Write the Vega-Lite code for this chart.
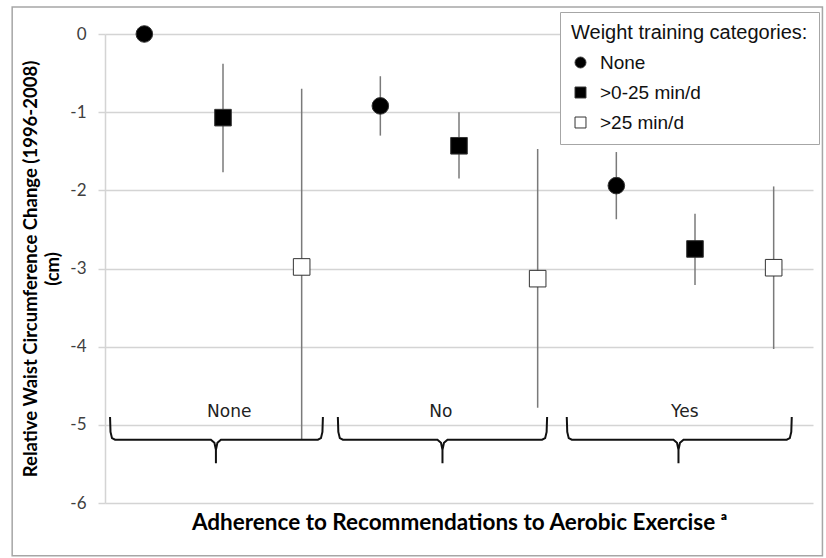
{
  "$schema": "https://vega.github.io/schema/vega-lite/v6.json",
  "width": 708,
  "height": 469,
  "autosize": {"type": "none"},
  "padding": {"left": 105, "top": 34, "right": 13, "bottom": 55},
  "background": "white",
  "config": {"view": {"stroke": null}, "font": "Lato"},
  "datasets": {
    "frame": [{"x": -0.68, "x2": 9.62, "y": 0.345, "y2": -6.675}],
    "errors": [
      {"x": 2, "y": -0.38, "y2": -1.77},
      {"x": 3, "y": -0.70, "y2": -5.19},
      {"x": 4, "y": -0.54, "y2": -1.30},
      {"x": 5, "y": -1.00, "y2": -1.85},
      {"x": 6, "y": -1.47, "y2": -4.78},
      {"x": 7, "y": -1.51, "y2": -2.37},
      {"x": 8, "y": -2.30, "y2": -3.21},
      {"x": 9, "y": -1.95, "y2": -4.03}
    ],
    "points": [
      {"x": 1, "group": "None", "wt": "None", "y": 0},
      {"x": 2, "group": "None", "wt": ">0-25 min/d", "y": -1.07},
      {"x": 3, "group": "None", "wt": ">25 min/d", "y": -2.98},
      {"x": 4, "group": "No", "wt": "None", "y": -0.92},
      {"x": 5, "group": "No", "wt": ">0-25 min/d", "y": -1.43},
      {"x": 6, "group": "No", "wt": ">25 min/d", "y": -3.13},
      {"x": 7, "group": "Yes", "wt": "None", "y": -1.94},
      {"x": 8, "group": "Yes", "wt": ">0-25 min/d", "y": -2.75},
      {"x": 9, "group": "Yes", "wt": ">25 min/d", "y": -2.99}
    ],
    "braces": [
      {"b": "None", "o": 1, "x": 0.564, "y": -4.90},
      {"b": "None", "o": 2, "x": 0.570, "y": -5.09},
      {"b": "None", "o": 3, "x": 0.589, "y": -5.17},
      {"b": "None", "o": 4, "x": 0.628, "y": -5.19},
      {"b": "None", "o": 5, "x": 1.846, "y": -5.19},
      {"b": "None", "o": 6, "x": 1.891, "y": -5.23},
      {"b": "None", "o": 7, "x": 1.910, "y": -5.32},
      {"b": "None", "o": 8, "x": 1.910, "y": -5.49},
      {"b": "None", "o": 9, "x": 1.910, "y": -5.32},
      {"b": "None", "o": 10, "x": 1.929, "y": -5.23},
      {"b": "None", "o": 11, "x": 1.974, "y": -5.19},
      {"b": "None", "o": 12, "x": 3.206, "y": -5.19},
      {"b": "None", "o": 13, "x": 3.245, "y": -5.17},
      {"b": "None", "o": 14, "x": 3.264, "y": -5.09},
      {"b": "None", "o": 15, "x": 3.270, "y": -4.90},
      {"b": "No", "o": 1, "x": 3.460, "y": -4.90},
      {"b": "No", "o": 2, "x": 3.466, "y": -5.09},
      {"b": "No", "o": 3, "x": 3.485, "y": -5.17},
      {"b": "No", "o": 4, "x": 3.524, "y": -5.19},
      {"b": "No", "o": 5, "x": 4.726, "y": -5.19},
      {"b": "No", "o": 6, "x": 4.771, "y": -5.23},
      {"b": "No", "o": 7, "x": 4.790, "y": -5.32},
      {"b": "No", "o": 8, "x": 4.790, "y": -5.49},
      {"b": "No", "o": 9, "x": 4.790, "y": -5.32},
      {"b": "No", "o": 10, "x": 4.809, "y": -5.23},
      {"b": "No", "o": 11, "x": 4.854, "y": -5.19},
      {"b": "No", "o": 12, "x": 6.056, "y": -5.19},
      {"b": "No", "o": 13, "x": 6.095, "y": -5.17},
      {"b": "No", "o": 14, "x": 6.114, "y": -5.09},
      {"b": "No", "o": 15, "x": 6.120, "y": -4.90},
      {"b": "Yes", "o": 1, "x": 6.370, "y": -4.90},
      {"b": "Yes", "o": 2, "x": 6.376, "y": -5.09},
      {"b": "Yes", "o": 3, "x": 6.395, "y": -5.17},
      {"b": "Yes", "o": 4, "x": 6.434, "y": -5.19},
      {"b": "Yes", "o": 5, "x": 7.726, "y": -5.19},
      {"b": "Yes", "o": 6, "x": 7.771, "y": -5.23},
      {"b": "Yes", "o": 7, "x": 7.790, "y": -5.32},
      {"b": "Yes", "o": 8, "x": 7.790, "y": -5.49},
      {"b": "Yes", "o": 9, "x": 7.790, "y": -5.32},
      {"b": "Yes", "o": 10, "x": 7.809, "y": -5.23},
      {"b": "Yes", "o": 11, "x": 7.854, "y": -5.19},
      {"b": "Yes", "o": 12, "x": 9.166, "y": -5.19},
      {"b": "Yes", "o": 13, "x": 9.205, "y": -5.17},
      {"b": "Yes", "o": 14, "x": 9.224, "y": -5.09},
      {"b": "Yes", "o": 15, "x": 9.230, "y": -4.90}
    ],
    "labels": [
      {"x": 2.08, "y": -4.83, "label": "None"},
      {"x": 4.77, "y": -4.83, "label": "No"},
      {"x": 7.87, "y": -4.83, "label": "Yes"}
    ]
  },
  "encoding": {
    "x": {
      "field": "x",
      "type": "quantitative",
      "scale": {"domain": [0.5, 9.5], "nice": false, "zero": false},
      "axis": {
        "title": "Adherence to Recommendations to Aerobic Exercise ᵃ",
        "labels": false,
        "ticks": false,
        "domain": false,
        "grid": false,
        "titleFont": "Lato",
        "titleFontSize": 22.5,
        "titleFontWeight": "bold",
        "titleColor": "#000",
        "titlePadding": 8
      }
    },
    "y": {
      "field": "y",
      "type": "quantitative",
      "scale": {"domain": [-6, 0], "nice": false, "zero": false},
      "axis": {
        "title": ["Relative Waist Circumference Change (1996-2008)", "(cm)"],
        "values": [-6, -5, -4, -3, -2, -1, 0],
        "labelExpr": "'' + datum.value",
        "grid": true,
        "gridColor": "#d4d4d4",
        "gridWidth": 1.5,
        "domainColor": "#d4d4d4",
        "domainWidth": 1.5,
        "tickColor": "#d4d4d4",
        "tickWidth": 1.5,
        "tickSize": 7,
        "labelPadding": 12,
        "labelFont": "Lato",
        "labelFontSize": 17,
        "labelColor": "#404040",
        "titleFont": "Lato",
        "titleFontSize": 18.5,
        "titleFontWeight": "bold",
        "titleColor": "#000",
        "titleLineHeight": 22,
        "titlePadding": 7,
        "titleLimit": 600
      }
    }
  },
  "layer": [
    {
      "data": {"name": "frame"},
      "mark": {"type": "rect", "fillOpacity": 0, "stroke": "#a6a6a6", "strokeWidth": 1.5},
      "encoding": {"x2": {"field": "x2"}, "y2": {"field": "y2"}}
    },
    {
      "data": {"name": "errors"},
      "mark": {"type": "rule", "color": "#7a7a7a", "strokeWidth": 1.5},
      "encoding": {"y2": {"field": "y2"}}
    },
    {
      "data": {"name": "braces"},
      "mark": {"type": "line", "color": "#111", "strokeWidth": 2},
      "encoding": {"detail": {"field": "b"}, "order": {"field": "o", "type": "quantitative"}}
    },
    {
      "data": {"name": "labels"},
      "mark": {"type": "text", "font": "DejaVu Sans", "fontSize": 17, "color": "#222", "baseline": "middle", "align": "center"},
      "encoding": {"text": {"field": "label"}}
    },
    {
      "data": {"name": "points"},
      "mark": {"type": "point", "filled": true, "size": 275, "stroke": "#333", "strokeWidth": 1, "opacity": 1},
      "encoding": {
        "shape": {
          "field": "wt",
          "type": "nominal",
          "scale": {"domain": ["None", ">0-25 min/d", ">25 min/d"], "range": ["circle", "square", "square"]},
          "legend": {
            "title": "Weight training categories:",
            "orient": "none",
            "legendX": 455,
            "legendY": -22,
            "direction": "vertical",
            "fillColor": "#fff",
            "strokeColor": "#a6a6a6",
            "padding": 11,
            "titleFont": "Liberation Sans",
            "titleFontSize": 20,
            "titleFontWeight": "normal",
            "titleColor": "#111",
            "titlePadding": 10,
            "titleLimit": 400,
            "labelFont": "Liberation Sans",
            "labelFontSize": 19,
            "labelColor": "#111",
            "labelLimit": 300,
            "symbolSize": 120,
            "symbolStrokeWidth": 1,
            "rowPadding": 10,
            "labelOffset": 10,
            "labelExpr": "datum.label == '>25 min/d' ? ' >25 min/d' : datum.label"
          }
        },
        "fill": {
          "field": "wt",
          "type": "nominal",
          "scale": {"domain": ["None", ">0-25 min/d", ">25 min/d"], "range": ["#000", "#000", "#fff"]},
          "legend": {
            "title": "Weight training categories:",
            "orient": "none",
            "legendX": 455,
            "legendY": -22,
            "direction": "vertical",
            "fillColor": "#fff",
            "strokeColor": "#a6a6a6",
            "padding": 11,
            "titleFont": "Liberation Sans",
            "titleFontSize": 20,
            "titleFontWeight": "normal",
            "titleColor": "#111",
            "titlePadding": 10,
            "titleLimit": 400,
            "labelFont": "Liberation Sans",
            "labelFontSize": 19,
            "labelColor": "#111",
            "labelLimit": 300,
            "symbolSize": 120,
            "symbolStrokeWidth": 1,
            "rowPadding": 10,
            "labelOffset": 10,
            "labelExpr": "datum.label == '>25 min/d' ? ' >25 min/d' : datum.label"
          }
        }
      }
    }
  ]
}
